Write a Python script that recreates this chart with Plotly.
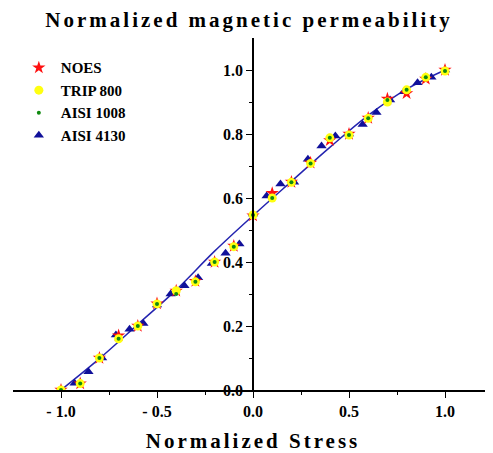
import plotly.graph_objects as go

# ---- data ----
x_main = [-1.0, -0.9, -0.8, -0.7, -0.6, -0.5, -0.4, -0.3, -0.2, -0.1, 0.0,
          0.1, 0.2, 0.3, 0.4, 0.5, 0.6, 0.7, 0.8, 0.9, 1.0]
noes = [0.0, 0.02, 0.10, 0.17, 0.20, 0.27, 0.31, 0.34, 0.40, 0.45, 0.545,
        0.615, 0.65, 0.71, 0.78, 0.80, 0.85, 0.91, 0.927, 0.972, 1.0]
trip800 = [0.0, 0.02, 0.10, 0.16, 0.20, 0.269, 0.31, 0.338, 0.40, 0.448, 0.547,
           0.60, 0.649, 0.708, 0.788, 0.797, 0.849, 0.90, 0.938, 0.977, 0.997]
aisi1008 = [0.0, 0.02, 0.10, 0.16, 0.20, 0.269, 0.30, 0.338, 0.40, 0.448, 0.547,
            0.60, 0.649, 0.708, 0.788, 0.797, 0.849, 0.906, 0.938, 0.977, 0.997]
x_4130 = [-1.0, -0.929, -0.857, -0.786, -0.714, -0.643, -0.571, -0.5, -0.429,
          -0.357, -0.286, -0.214, -0.143, -0.071, 0.0, 0.071, 0.143, 0.214,
          0.286, 0.357, 0.429, 0.5, 0.571, 0.643, 0.714, 0.786, 0.857, 0.929, 1.0]
aisi4130 = [0.0, 0.021, 0.057, 0.10, 0.172, 0.19, 0.208, 0.266, 0.30, 0.326,
            0.351, 0.395, 0.427, 0.456, 0.55, 0.606, 0.644, 0.649, 0.721, 0.7625,
            0.794, 0.80, 0.83, 0.867, 0.906, 0.932, 0.96, 0.977, 1.0]
fit_x = [-1.0, -0.8, -0.6, -0.4, -0.2, 0.0, 0.2, 0.4, 0.6, 0.8, 1.0]
fit_y = [0.0, 0.098, 0.205, 0.313, 0.434, 0.545, 0.652, 0.758, 0.858, 0.94, 1.0]

x_tickvals = [-1.0, -0.5, 0.0, 0.5, 1.0]
x_ticktext = ["- 1.0", "- 0.5", "0.0", "0.5", "1.0"]
y_tickvals = [0.0, 0.2, 0.4, 0.6, 0.8, 1.0]
y_ticktext = ["0.0", "0.2", "0.4", "0.6", "0.8", "1.0"]

SERIF = "Liberation Serif, Times New Roman, serif"

fig = go.Figure()
fig.add_trace(go.Scatter(x=fit_x, y=fit_y, mode="lines", line_shape="spline",
                         line=dict(color="#2424b0", width=1.5), showlegend=False,
                         hoverinfo="skip"))
fig.add_trace(go.Scatter(x=x_4130, y=aisi4130, mode="markers", name="AISI 4130",
                         marker=dict(symbol="triangle-up", size=9, color="#10109a"),
                         legendrank=4))
fig.add_trace(go.Scatter(x=x_main, y=noes, mode="markers", name="NOES",
                         marker=dict(symbol="star", size=10, color="#ff1010"),
                         legendrank=1))
fig.add_trace(go.Scatter(x=x_main, y=trip800, mode="markers", name="TRIP 800",
                         marker=dict(symbol="circle", size=9, color="#ffff10"),
                         legendrank=2))
fig.add_trace(go.Scatter(x=x_main, y=aisi1008, mode="markers", name="AISI 1008",
                         marker=dict(symbol="circle", size=4, color="#108a10"),
                         legendrank=3))

fig.update_layout(
    width=493, height=453,
    margin=dict(l=5, r=8, t=30, b=71, autoexpand=False),
    paper_bgcolor="white", plot_bgcolor="white",
    font=dict(family=SERIF, color="black"),
    title=dict(text='<span style="letter-spacing:3px">Normalized magnetic permeability</span>',
               x=0.489, xanchor="center", y=1 - 12 / 453, yanchor="middle",
               font=dict(size=21, family=SERIF, color="black", weight="bold")),
    legend=dict(x=0.008, y=0.962, xanchor="left", yanchor="top",
                font=dict(size=15, family=SERIF, color="black", weight="bold"),
                bgcolor="rgba(0,0,0,0)", itemwidth=34, tracegroupgap=0),
    xaxis=dict(range=[-1.25, 1.25], showgrid=False, zeroline=False, automargin=False,
               showline=True, linecolor="black", linewidth=1.5,
               ticks="outside", ticklen=6, tickwidth=1.2, tickcolor="black",
               tickvals=x_tickvals, ticktext=x_ticktext,
               tickfont=dict(size=16, family=SERIF, weight="bold"),
               minor=dict(ticks="outside", ticklen=3, tickwidth=1.2, tickcolor="black",
                          tickvals=[-0.75, -0.25, 0.25, 0.75]),
               title=dict(text='<span style="letter-spacing:3px">Normalized Stress</span>',
                          font=dict(size=21, family=SERIF, weight="bold"), standoff=14)),
    yaxis=dict(range=[0, 1.1], showgrid=False, zeroline=False, automargin=False,
               anchor="free", position=0.5,
               showline=True, linecolor="black", linewidth=1.5,
               ticks="outside", ticklen=6, tickwidth=1.2, tickcolor="black",
               tickvals=y_tickvals, ticktext=y_ticktext,
               tickfont=dict(size=16, family=SERIF, weight="bold"),
               minor=dict(ticks="outside", ticklen=3, tickwidth=1.2, tickcolor="black",
                          tickvals=[0.1, 0.3, 0.5, 0.7, 0.9])),
)

fig.write_html("out.html")
